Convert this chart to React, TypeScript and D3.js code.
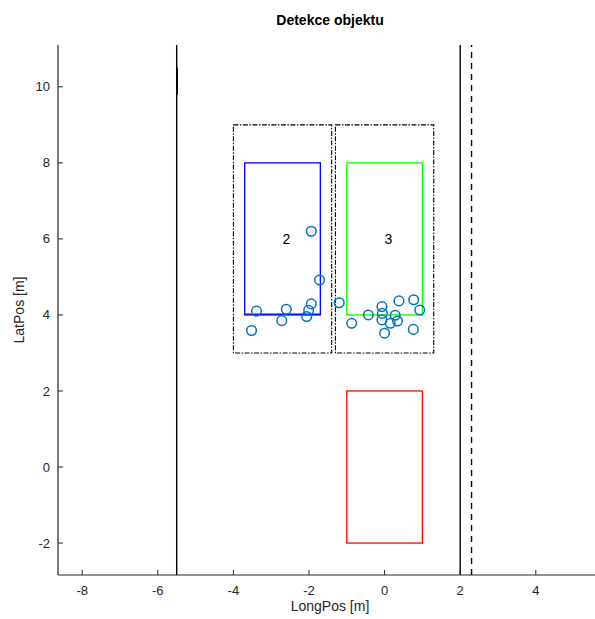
import React from 'react';
import * as d3 from 'd3';

// detected points (LongPos, LatPos)
const pointsX = [-1.94, -1.72, -1.94, -2.01, -2.06, -2.6, -2.72, -3.39, -3.52,
  -1.2, -0.87, -0.43, -0.07, -0.06, -0.07, 0.15, 0.0, 0.28, 0.34, 0.38, 0.77, 0.93, 0.76];
const pointsY = [6.2, 4.92, 4.29, 4.12, 3.96, 4.15, 3.85, 4.1, 3.59,
  4.32, 3.78, 4.0, 4.22, 4.04, 3.87, 3.78, 3.52, 3.99, 3.84, 4.37, 4.4, 4.13, 3.62];

// boxes: [x0, x1, y0, y1]
const gateBoxes = [[-4, -1.4, 3, 9], [-1.3, 1.3, 3, 9]];
const objectBoxes = [[-3.7, -1.7, 4, 8], [-1, 1, 4, 8], [-1, 1, -2, 2]];
const objectColors = ['#0000ff', '#00ff00', '#ff0000'];
const objectLabels = ['2', '3', ''];

const solidLinesX = [-5.5, 2];
const dashedLineX = 2.3;

const xTicks = [-8, -6, -4, -2, 0, 2, 4];
const yTicks = [-2, 0, 2, 4, 6, 8, 10];

const W = 595;
const H = 619;
const font = 'Liberation Sans, Arial, sans-serif';

export default function App() {
  const left = 58, top = 45, bottom = 575;
  const x = d3.scaleLinear().domain([-8.64, 6]).range([left, left + 14.64 * 37.8]);
  const y = d3.scaleLinear().domain([-2.84, 11.1]).range([bottom, top]);
  const [y0, y1] = y.domain();

  return (
    <svg width={W} height={H} style={{ position: 'absolute', left: 0, top: 0, background: '#fff' }}
      fontFamily={font}>
      <rect width={W} height={H} fill="#fff" />
      <text x={330} y={25} textAnchor="middle" fontSize={14} fontWeight="bold">Detekce objektu</text>

      {/* lane boundaries */}
      {solidLinesX.map((v, i) => (
        <line key={i} x1={x(v)} x2={x(v)} y1={y(y0)} y2={y(y1)} stroke="#000" strokeWidth={1.4} />
      ))}
      <line x1={x(-5.5) + 0.5} x2={x(-5.5) + 0.5} y1={y(10.5)} y2={y(9.8)} stroke="#000" strokeWidth={1.6} />
      <line x1={x(dashedLineX)} x2={x(dashedLineX)} y1={y(y0)} y2={y(y1)} stroke="#000"
        strokeWidth={1.4} strokeDasharray="6,5" />

      {gateBoxes.map((b, i) => (
        <rect key={i} x={x(b[0])} y={y(b[3])} width={x(b[1]) - x(b[0])} height={y(b[2]) - y(b[3])}
          fill="none" stroke="#000" strokeWidth={1.1} strokeDasharray="5,1.5,1.5,1.5" />
      ))}

      {objectBoxes.map((b, i) => (
        <g key={i}>
          <rect x={x(b[0])} y={y(b[3])} width={x(b[1]) - x(b[0])} height={y(b[2]) - y(b[3])}
            fill="none" stroke={objectColors[i]} strokeWidth={1.3} />
          {objectLabels[i] && (
            <text x={x((b[0] + b[1]) / 2)} y={y((b[2] + b[3]) / 2)} dy="0.35em" textAnchor="start"
              fontSize={14}>{objectLabels[i]}</text>
          )}
        </g>
      ))}
      <line x1={x(-3.7)} x2={x(-1.7)} y1={y(4) - 0.8} y2={y(4) - 0.8} stroke="#0000ff" strokeWidth={1.3} />

      {pointsX.map((v, i) => (
        <circle key={i} cx={x(v)} cy={y(pointsY[i])} r={4.8} fill="none" stroke="#0072bd" strokeWidth={1.5} />
      ))}

      {/* axes */}
      <line x1={left} x2={W} y1={bottom} y2={bottom} stroke="#262626" strokeWidth={1.2} />
      <line x1={left} x2={left} y1={top} y2={bottom} stroke="#262626" strokeWidth={1.2} />
      {xTicks.map(t => (
        <g key={t}>
          <line x1={x(t)} x2={x(t)} y1={bottom} y2={bottom - 5} stroke="#262626" />
          <text x={x(t)} y={bottom + 20} textAnchor="middle" fontSize={13} fill="#262626">{t}</text>
        </g>
      ))}
      {yTicks.map(t => (
        <g key={t}>
          <line x1={left} x2={left + 5} y1={y(t)} y2={y(t)} stroke="#262626" />
          <text x={left - 8} y={y(t)} dy="0.35em" textAnchor="end" fontSize={13} fill="#262626">{t}</text>
        </g>
      ))}
      <text x={330} y={611} textAnchor="middle" fontSize={14} fill="#262626">LongPos [m]</text>
      <text transform={`translate(24,${(top + bottom) / 2}) rotate(-90)`} textAnchor="middle" fontSize={14}
        fill="#262626">LatPos [m]</text>
    </svg>
  );
}
